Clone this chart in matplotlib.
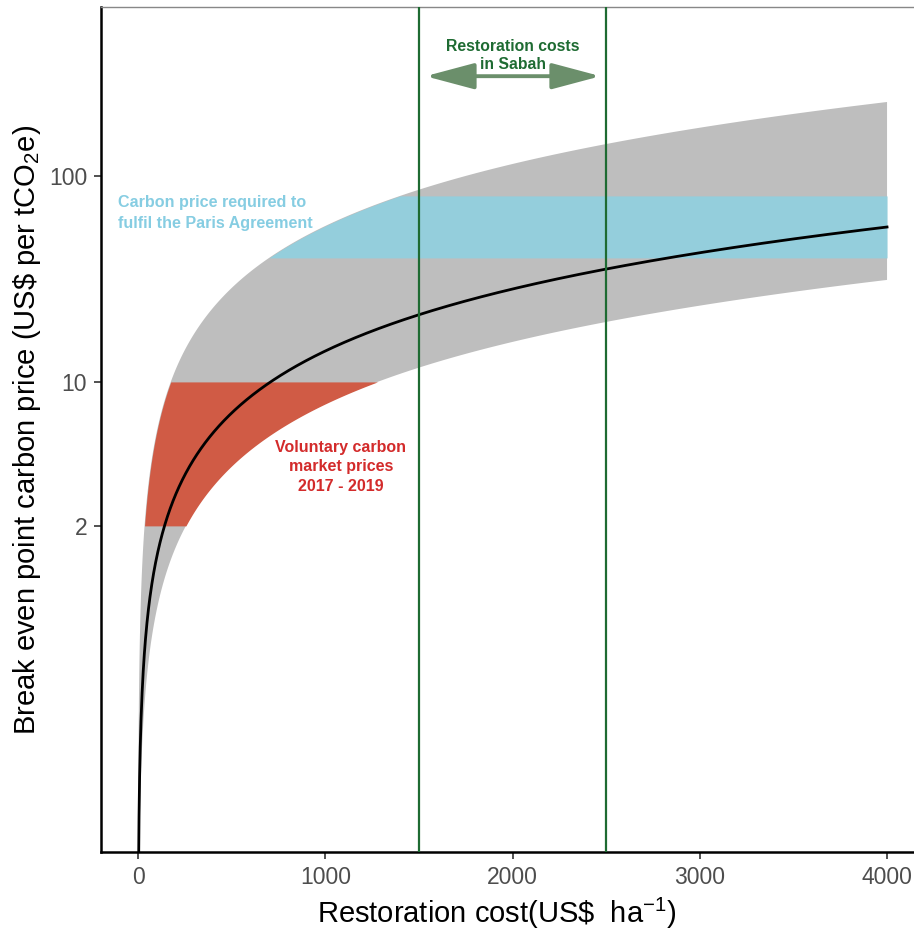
import numpy as np
import matplotlib
matplotlib.use("Agg")
import matplotlib.pyplot as plt

plt.rcParams['font.family'] = ['Liberation Sans', 'DejaVu Sans']
plt.rcParams['mathtext.fontset'] = 'custom'
plt.rcParams['mathtext.rm'] = 'Liberation Sans'
plt.rcParams['mathtext.it'] = 'Liberation Sans:italic'

# ---- data ----
cost_max = 4000                       # US$ ha-1, end of the curves
carbon_mid = 70.8                     # tCO2e ha-1 (central estimate)
carbon_high = 127.9                   # tCO2e ha-1 (lower price bound)
carbon_low = 17.5                     # tCO2e ha-1 (upper price bound)
voluntary_prices = [2, 10]            # US$ per tCO2e, 2017-2019
paris_prices = [40, 80]               # US$ per tCO2e
sabah_costs = [1500, 2500]            # US$ ha-1
x_ticks = [0, 1000, 2000, 3000, 4000]
y_ticks = [2, 10, 100]
y_tick_labels = ['2', '10', '100']

# colours
c_grey = '#bebebe'
c_red = '#d05b45'
c_blue = '#94cedc'
c_green = '#1e6b32'
c_arrow = '#6b8f6b'

fig = plt.figure(figsize=(9.14, 9.34), dpi=100)
ax = fig.add_axes([101 / 914, 82 / 934, (914 - 101) / 914, (852 - 7) / 934])
ax.set_yscale('log')

cost = np.concatenate([np.geomspace(0.01, 10, 300), np.linspace(10, cost_max, 2000)[1:]])

# grey uncertainty band
ax.fill_between(cost, cost / carbon_high, cost / carbon_low, color=c_grey, lw=0, zorder=1)

# voluntary market band (within grey band)
yv = np.geomspace(voluntary_prices[0], voluntary_prices[1], 300)
ax.fill_betweenx(yv, yv * carbon_low, np.minimum(yv * carbon_high, cost_max),
                 color=c_red, lw=0, zorder=2)

# Paris agreement band
yp = np.geomspace(paris_prices[0], paris_prices[1], 300)
ax.fill_betweenx(yp, yp * carbon_low, np.minimum(yp * carbon_high, cost_max),
                 color=c_blue, lw=0, zorder=2)

# central line
ax.plot(cost, cost / carbon_mid, color='black', lw=2.0, zorder=3)

# Sabah restoration cost lines
for c in sabah_costs:
    ax.axvline(c, color=c_green, lw=1.6, zorder=4)

ax.annotate('', xy=(1535, 305), xytext=(2470, 305),
            arrowprops=dict(arrowstyle='<|-|>,head_length=1.5,head_width=0.4',
                            mutation_scale=20, color=c_arrow, lw=2.8,
                            shrinkA=0, shrinkB=0), zorder=5)
ax.text(2000, 385, 'Restoration costs\nin Sabah', ha='center', va='center',
        color=c_green, fontweight='bold', fontsize=11.3, linespacing=1.3, zorder=6)
ax.text(411, 66, 'Carbon price required to\nfulfil the Paris Agreement', ha='center',
        va='center', multialignment='left', color='#86cde2', fontweight='bold',
        fontsize=11.6, linespacing=1.45, zorder=6)
ax.text(1084, 3.87, 'Voluntary carbon\nmarket prices\n2017 - 2019', ha='center',
        va='center', color='#d32b2b', fontweight='bold', fontsize=11.5,
        linespacing=1.35, zorder=6)

ax.set_xlim(-197.6, 4144)
ax.set_ylim(0.0522, 661)
ax.set_xticks(x_ticks)
ax.set_xticklabels([str(t) for t in x_ticks])
ax.set_yticks(y_ticks)
ax.set_yticklabels(y_tick_labels)
ax.yaxis.set_minor_locator(matplotlib.ticker.NullLocator())

ax.spines['right'].set_visible(False)
ax.spines['top'].set_color('#888888')
ax.spines['top'].set_linewidth(1.0)
ax.spines['left'].set_linewidth(1.8)
ax.spines['bottom'].set_linewidth(1.8)
ax.tick_params(length=5, width=1.2, color='#333333', labelcolor='#4d4d4d',
               labelsize=16.5, pad=5)

ax.set_xlabel(r'Restoration cost(US\$  ha$^{\mathregular{-1}}$)', fontsize=21)
ax.set_ylabel(r'Break even point carbon price (US\$ per tCO$_\mathregular{2}$e)',
              fontsize=21, labelpad=4)
ax.xaxis.set_label_coords(0.487, -0.052)

fig.savefig('out.png', dpi=100)
